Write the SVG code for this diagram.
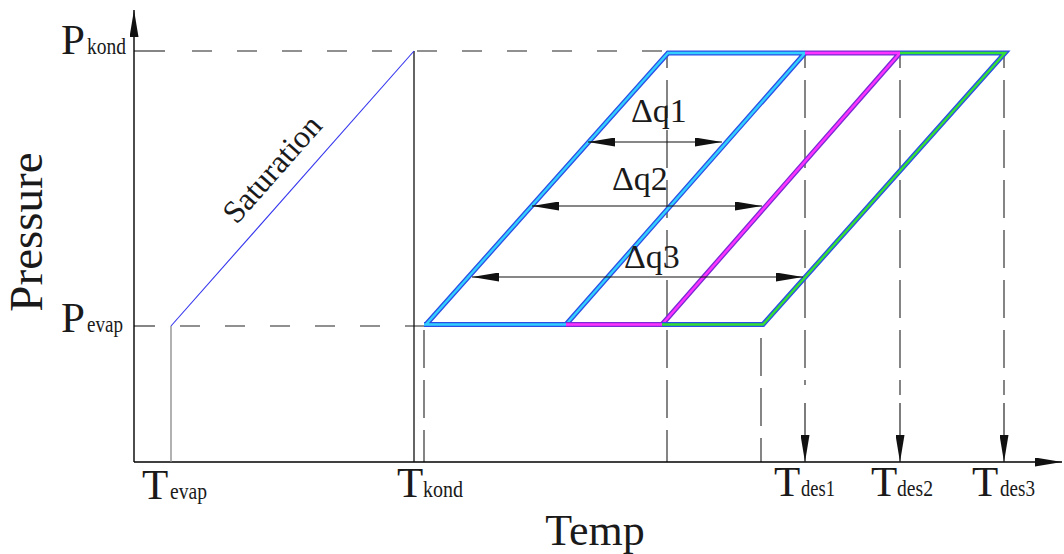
<svg xmlns="http://www.w3.org/2000/svg" width="1064" height="554" viewBox="0 0 1064 554">
<defs>
<style>
text{font-family:"Liberation Serif","Times New Roman",serif;fill:#1a1a1a}
.big{font-size:43px}
.sub{font-size:23px}
.dq{font-size:34px}
.ax{stroke:#000;stroke-width:1.4;fill:none}
.dh{stroke:#222;stroke-width:1.1;fill:none;stroke-dasharray:20 25}
.dv{stroke:#222;stroke-width:1.1;fill:none;stroke-dasharray:38 12}
.arr{stroke:#111;stroke-width:1.1;fill:none}
.o{fill:none;stroke-width:5;stroke-linecap:butt;stroke-linejoin:miter}
.i{fill:none;stroke-width:2.4;stroke-linecap:butt;stroke-linejoin:miter}
</style>
<marker id="ah" viewBox="0 0 27 9" refX="27" refY="4.5" markerWidth="27" markerHeight="9" markerUnits="userSpaceOnUse" orient="auto-start-reverse">
<path d="M0,0 L27,4.5 L0,9 z" fill="#111"/>
</marker>
</defs>

<g id="grid">
<line x1="134" y1="51" x2="165" y2="51" stroke="#222" stroke-width="1.1"/>
<line class="dh" x1="192" y1="51" x2="665" y2="51"/>
<line x1="134" y1="326" x2="155" y2="326" stroke="#222" stroke-width="1.1"/>
<line class="dh" x1="180" y1="326" x2="424" y2="326"/>
<line class="dv" x1="424" y1="330" x2="424" y2="462"/>
<line class="dv" x1="667" y1="51" x2="667" y2="462" style="stroke-dashoffset:21"/>
<line class="dv" x1="761" y1="330" x2="761" y2="462" style="stroke-dashoffset:-8"/>
<line class="dv" x1="805" y1="51" x2="805" y2="385" style="stroke-dashoffset:21"/>
<line class="dv" x1="900" y1="51" x2="900" y2="395" style="stroke-dashoffset:21"/>
<line class="dv" x1="1004" y1="51" x2="1004" y2="395" style="stroke-dashoffset:21"/>
</g>

<g id="axes">
<line class="ax" x1="134" y1="462" x2="134" y2="10" marker-end="url(#ah)"/>
<line class="ax" x1="134" y1="462" x2="1062" y2="462" marker-end="url(#ah)"/>
<line x1="171" y1="326" x2="171" y2="462" stroke="#888" stroke-width="1.3"/>
<line x1="414" y1="51" x2="414" y2="462" stroke="#111" stroke-width="1.3"/>
<line x1="171" y1="326" x2="414" y2="51" stroke="#3333ee" stroke-width="1.1"/>
</g>

<g id="band-cyan">
<path class="o" stroke="#2a4fe6" d="M424,324.5 L566,324.5 M426,324.5 L668,53 L805,53 M566,324.5 L805,53"/>
<path class="i" stroke="#33d0ff" d="M424,324.5 L566,324.5 M426,324.5 L668,53 L805,53 M566,324.5 L805,53"/>
</g>
<g id="band-magenta">
<path class="o" stroke="#7a2ad6" d="M566,324.5 L662,324.5 M662,324.5 L900,53 M805,53 L900,53"/>
<path class="i" stroke="#ff33ff" d="M566,324.5 L662,324.5 M662,324.5 L900,53 M805,53 L900,53"/>
</g>
<g id="band-green">
<path class="o" stroke="#2a4fe6" d="M662,324.5 L763,324.5 L1005,53 L900,53"/>
<path class="i" stroke="#33e033" d="M662,324.5 L763,324.5 L1005,53 L900,53"/>
</g>

<g id="connectors">
<line class="arr" x1="588" y1="142" x2="722" y2="142" marker-start="url(#ah)" marker-end="url(#ah)"/>
<line class="arr" x1="532" y1="206" x2="762" y2="206" marker-start="url(#ah)" marker-end="url(#ah)"/>
<line class="arr" x1="472" y1="277" x2="803" y2="277" marker-start="url(#ah)" marker-end="url(#ah)"/>
<line class="arr" x1="805" y1="403" x2="805" y2="462" marker-end="url(#ah)"/>
<line class="arr" x1="900" y1="403" x2="900" y2="462" marker-end="url(#ah)"/>
<line class="arr" x1="1004" y1="403" x2="1004" y2="462" marker-end="url(#ah)"/>
</g>

<g id="labels" font-family="Liberation Serif, Times New Roman, serif">
<text class="big" x="61" y="54">P</text><text class="sub" x="87" y="54" textLength="39" lengthAdjust="spacingAndGlyphs">kond</text>
<text class="big" x="61" y="332">P</text><text class="sub" x="87" y="332" textLength="36" lengthAdjust="spacingAndGlyphs">evap</text>
<text class="big" x="142" y="499">T</text><text class="sub" x="170" y="499" textLength="37" lengthAdjust="spacingAndGlyphs">evap</text>
<text class="big" x="397" y="497">T</text><text class="sub" x="423" y="497" textLength="40" lengthAdjust="spacingAndGlyphs">kond</text>
<text class="big" x="774" y="496">T</text><text class="sub" x="801" y="496" textLength="34" lengthAdjust="spacingAndGlyphs">des1</text>
<text class="big" x="871" y="496">T</text><text class="sub" x="897" y="496" textLength="36" lengthAdjust="spacingAndGlyphs">des2</text>
<text class="big" x="972" y="496">T</text><text class="sub" x="1000" y="496" textLength="35" lengthAdjust="spacingAndGlyphs">des3</text>
<text x="595" y="545" font-size="44" text-anchor="middle">Temp</text>
<text transform="translate(42,232) rotate(-90)" font-size="47" text-anchor="middle">Pressure</text>
<text transform="translate(280,176) rotate(-48.5)" font-size="32" text-anchor="middle">Saturation</text>
<text class="dq" x="631" y="122">Δq1</text>
<text class="dq" x="612" y="190">Δq2</text>
<text class="dq" x="624" y="268">Δq3</text>
</g>
</svg>
